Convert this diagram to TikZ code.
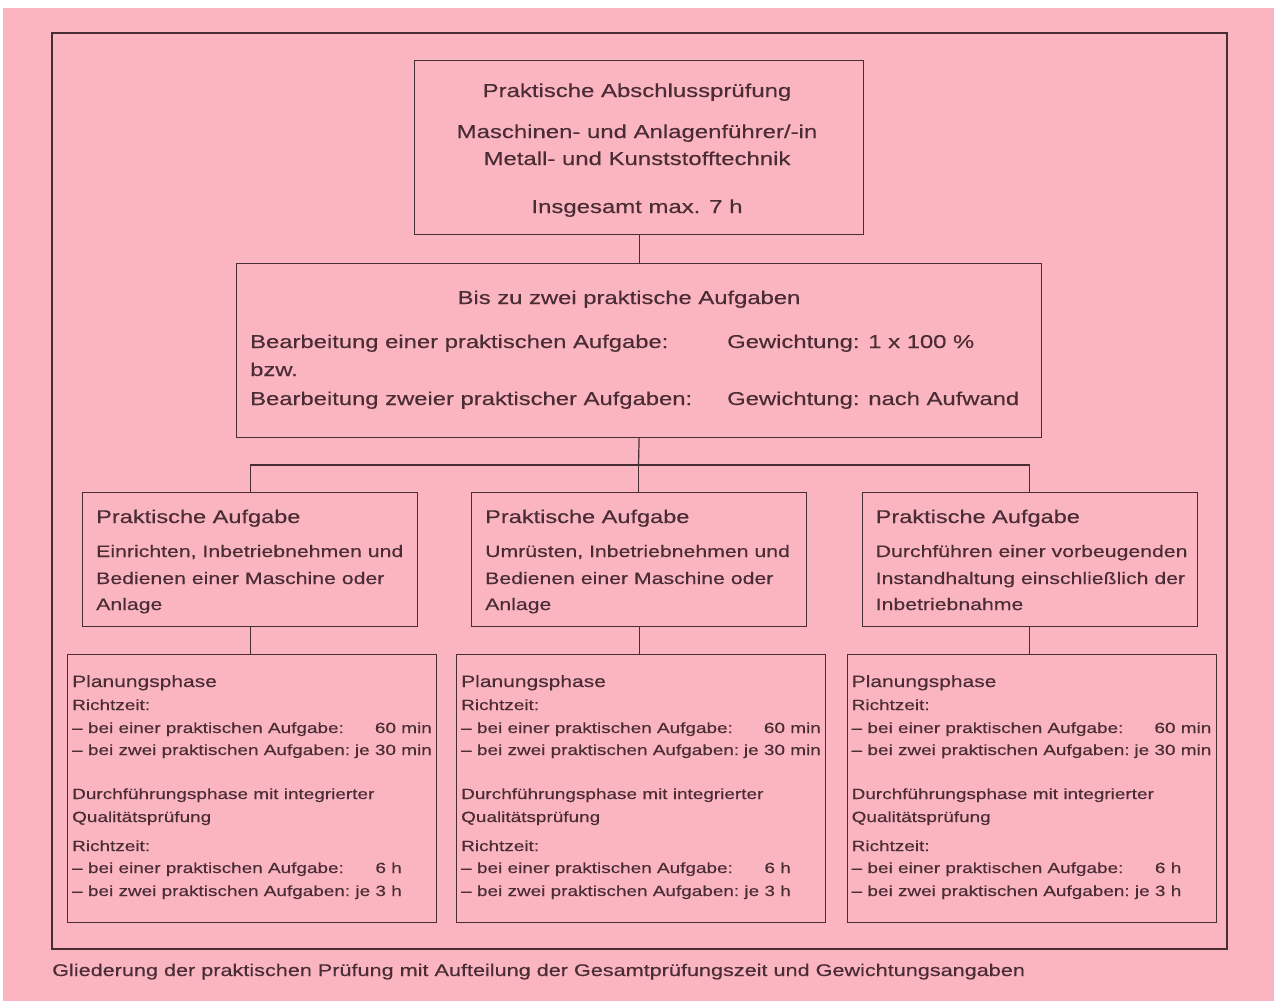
\documentclass[tikz,border=0pt]{standalone}
\usepackage{fontspec}
\setmainfont{Liberation Sans}[FakeStretch=1.28, FakeBold=0.3]
\definecolor{rosa}{RGB}{250,181,193}
\definecolor{linie}{RGB}{72,46,52}
\definecolor{schrift}{RGB}{74,44,52}
\newcommand{\fs}[1]{\fontsize{#1}{#1}\selectfont}
\tikzset{
	kasten/.style={draw=linie, line width=1.2pt, inner sep=0pt, anchor=north west},
	txt/.style={anchor=base west, inner sep=0pt, text=schrift},
	wert/.style={anchor=base east, inner sep=0pt, text=schrift},
	mitte/.style={anchor=base, inner sep=0pt, text=schrift},
	verbindung/.style={draw=linie, line width=1.2pt}
}
\begin{document}
\begin{tikzpicture}[x=1pt, y=-1pt]
	% Hintergrund
	\useasboundingbox (0,0) rectangle (1274,1001);
	\fill[white] (0,0) rectangle (1274,1001);
	\fill[rosa] (3,8) rectangle (1274,1001);
	% Rahmen
	\draw[linie, line width=2pt] (52,33) rectangle (1227,949);
	\node[txt, font=\fs{16.9}] (titel) at (52,976) {Gliederung der praktischen Prüfung mit Aufteilung der Gesamtprüfungszeit und Gewichtungsangaben};

	% Abschlussprüfung
	\node[kasten, minimum width=449, minimum height=174] (kopf) at (414,60) {};
	\node[mitte, font=\fs{18.7}] (kopf1) at (637,97) {Praktische Abschlussprüfung};
	\node[mitte, font=\fs{18.7}] (kopf2) at (637,138) {Maschinen- und Anlagenführer/-in};
	\node[mitte, font=\fs{18.7}] (kopf3) at (637,165) {Metall- und Kunststofftechnik};
	\node[mitte, font=\fs{18.7}] (kopf4) at (637,213) {Insgesamt max. 7 h};

	% Aufgabenwahl
	\node[kasten, minimum width=805, minimum height=174] (wahl) at (236,263) {};
	\node[mitte, font=\fs{18.6}] (wahl1) at (629,304) {Bis zu zwei praktische Aufgaben};
	\node[txt, font=\fs{18.6}] (wahl2) at (250,348) {Bearbeitung einer praktischen Aufgabe:};
	\node[txt, font=\fs{18.6}] (wahl3) at (250,376) {bzw.};
	\node[txt, font=\fs{18.6}] (wahl4) at (250,405) {Bearbeitung zweier praktischer Aufgaben:};
	\node[txt, font=\fs{18.6}] (gew1) at (727,348) {Gewichtung: 1 x 100 \%};
	\node[txt, font=\fs{18.6}] (gew2) at (727,405) {Gewichtung: nach Aufwand};

	% Verbindungen oben
	\coordinate (verteiler) at (638.5,465);
	\draw[verbindung] (kopf.south) -- (wahl.north);
	\draw[verbindung] (wahl.south) -- (verteiler);

	% Aufgaben und Phasen
	\foreach \i/\dx/\ta/\tb/\tc in {1/0/{Einrichten, Inbetriebnehmen und}/{Bedienen einer Maschine oder}/{Anlage},
		2/389/{Umrüsten, Inbetriebnehmen und}/{Bedienen einer Maschine oder}/{Anlage},
		3/779.5/{Durchführen einer vorbeugenden}/{Instandhaltung einschließlich der}/{Inbetriebnahme}}
	{
		% Aufgabe
		\node[kasten, minimum width=335, minimum height=134] (aufgabe\i) at (82+\dx,492) {};
		\node[txt, font=\fs{18.4}] (aufgabe\i-0) at (96+\dx,523) {Praktische Aufgabe};
		\node[txt, font=\fs{16.6}] (aufgabe\i-1) at (96+\dx,557) {\ta};
		\node[txt, font=\fs{16.6}] (aufgabe\i-2) at (96+\dx,584) {\tb};
		\node[txt, font=\fs{16.6}] (aufgabe\i-3) at (96+\dx,610) {\tc};
		% Phasen
		\node[kasten, minimum width=369, minimum height=268] (phase\i) at (67+\dx,654) {};
		\node[txt, font=\fs{16.4}] (phase\i-0) at (72+\dx,687) {Planungsphase};
		\node[txt, font=\fs{14.8}] (phase\i-1) at (72+\dx,710) {Richtzeit:};
		\node[txt, font=\fs{14.8}] (phase\i-2) at (72+\dx,733) {– bei einer praktischen Aufgabe:};
		\node[wert, font=\fs{14.8}] (wert\i-2) at (432+\dx,733) {60 min};
		\node[txt, font=\fs{14.8}] (phase\i-3) at (72+\dx,755) {– bei zwei praktischen Aufgaben:};
		\node[wert, font=\fs{14.8}] (wert\i-3) at (432+\dx,755) {je 30 min};
		\node[txt, font=\fs{14.8}] (phase\i-4) at (72+\dx,799) {Durchführungsphase mit integrierter};
		\node[txt, font=\fs{14.8}] (phase\i-5) at (72+\dx,822) {Qualitätsprüfung};
		\node[txt, font=\fs{14.8}] (phase\i-6) at (72+\dx,851) {Richtzeit:};
		\node[txt, font=\fs{14.8}] (phase\i-7) at (72+\dx,873) {– bei einer praktischen Aufgabe:};
		\node[wert, font=\fs{14.8}] (wert\i-7) at (402+\dx,873) {6 h};
		\node[txt, font=\fs{14.8}] (phase\i-8) at (72+\dx,896) {– bei zwei praktischen Aufgaben:};
		\node[wert, font=\fs{14.8}] (wert\i-8) at (402+\dx,896) {je 3 h};
		\draw[verbindung] (aufgabe\i.south) -- (aufgabe\i.south |- phase\i.north);
	}

	% Verteiler zu den Aufgaben
	\draw[verbindung] (aufgabe1.north) |- (verteiler) -| (aufgabe3.north);
	\draw[verbindung] (verteiler) -- (verteiler |- aufgabe2.north);
\end{tikzpicture}
\end{document}
